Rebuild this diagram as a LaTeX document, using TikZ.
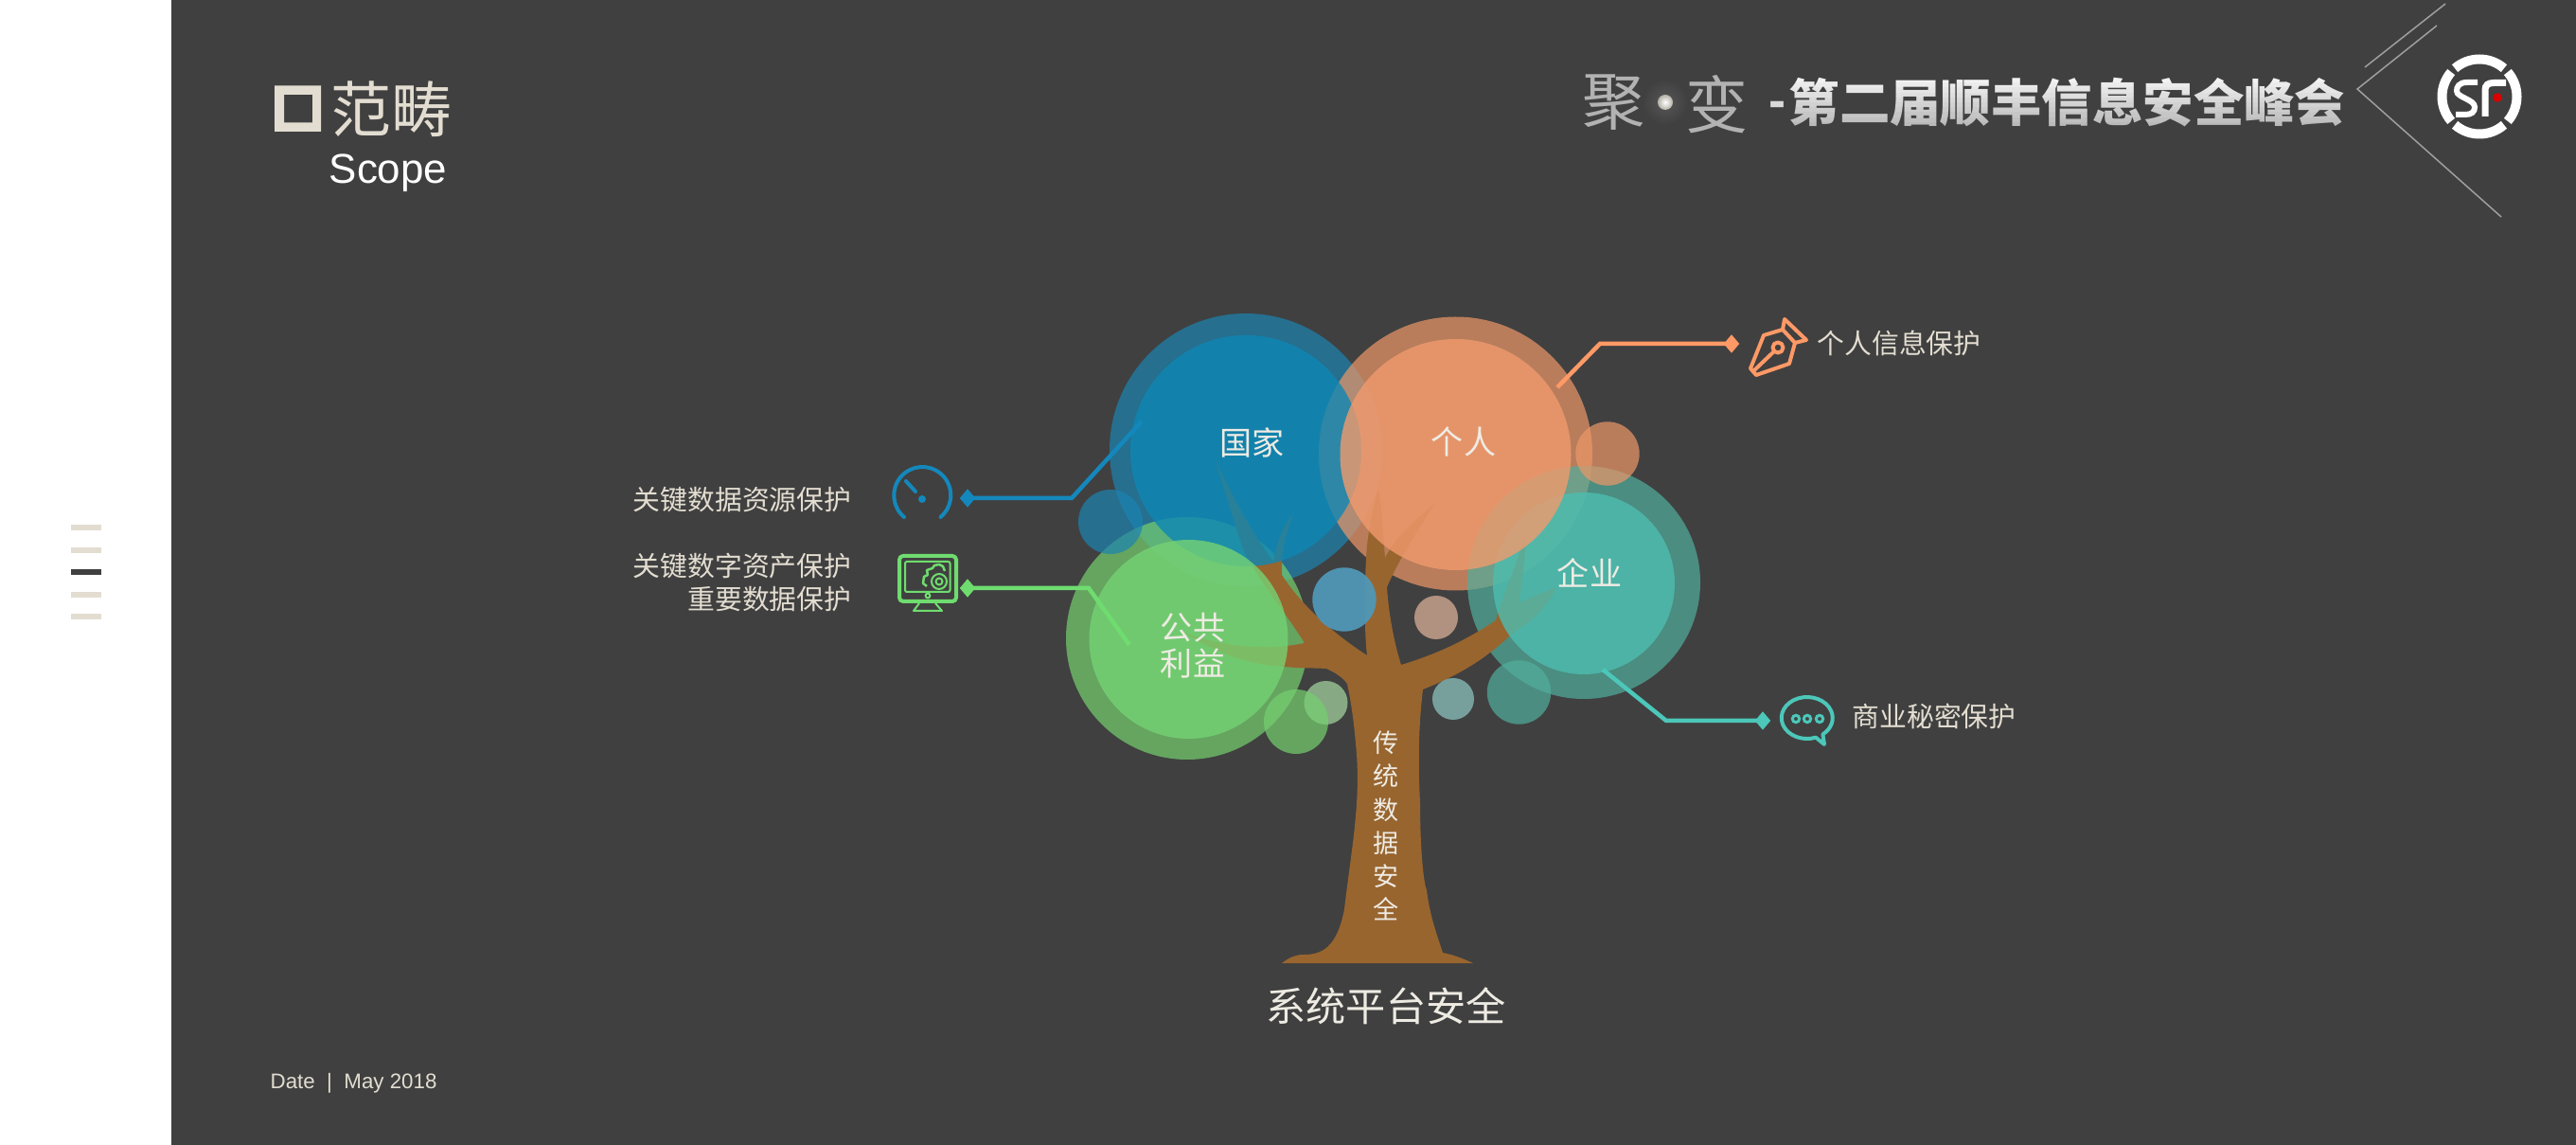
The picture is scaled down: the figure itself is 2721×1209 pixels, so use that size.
\documentclass[tikz,border=0pt]{standalone}
\usepackage{fontspec}
\usepackage{tikz}
\usetikzlibrary{shapes.geometric,calc}
\newfontfamily\cjk{Noto Sans CJK SC}
\newfontfamily\latinsans{Liberation Sans}
\definecolor{slide}{HTML}{404040}
\definecolor{sand}{HTML}{E3DDD1}
\definecolor{bark}{HTML}{98652F}
\definecolor{lineblue}{HTML}{1488BC}
\definecolor{lineorange}{HTML}{FF9966}
\definecolor{linegreen}{HTML}{6FDC6F}
\definecolor{lineteal}{HTML}{4CC7B9}
\definecolor{ringblue}{RGB}{27,131,177}
\definecolor{ringorange}{RGB}{237,151,104}
\definecolor{ringgreen}{RGB}{117,208,111}
\definecolor{ringteal}{RGB}{81,174,156}
\definecolor{coreblue}{RGB}{14,135,180}
\definecolor{coreorange}{RGB}{241,154,109}
\definecolor{coregreen}{RGB}{117,210,115}
\definecolor{coreteal}{RGB}{77,189,176}
\definecolor{dotblue}{HTML}{5097B6}
\definecolor{dottan}{HTML}{B89684}
\definecolor{dotgreen}{HTML}{8BB088}
\definecolor{dotteal}{HTML}{7AA6A3}
\tikzset{
    ring/.style={fill=#1,fill opacity=.7},
    core/.style={fill=#1,fill opacity=.8},
    dot/.style={fill=#1,fill opacity=.95},
    leaflabel/.style={text=sand!60!white,font=\cjk\fontsize{9.7}{10.8}\selectfont,align=center,inner sep=0},
    sidelabel/.style={text=sand,font=\cjk\fontsize{8.2}{9.7}\selectfont,inner sep=0},
    lead/.style={draw=#1,line width=.45mm},
    leadtip/.style={diamond,fill=#1,inner sep=0,minimum width=1.7mm,minimum height=2mm},
    icon/.style={draw=#1,line width=.4mm,line join=round,line cap=round}
}
\newcommand{\disc}[4]{
    \fill[#1=#2] (#3) circle (#4);
}
\begin{document}
\begin{tikzpicture}[x=.1mm,y=-.1mm]
        \useasboundingbox (0,0) rectangle (2721,1209);
        \fill[white] (0,0) rectangle (181,1209);
        \fill[slide] (181,0) rectangle (2721,1209);
        % side menu
        \foreach \bary/\barcol in {557/sand,581/sand,604/slide,628/sand,651.5/sand}
            \fill[\barcol] (75,\bary-3) rectangle (107,\bary+3);
        % heading
        \fill[sand,even odd rule] (290,90.5) rectangle (339,139) (300,100) rectangle (330,129.5);
        \node[text=sand,inner sep=0,font=\cjk\fontsize{18.2}{20}\selectfont] (headcn) at (413,115) {范畴};
        \node[text=white,inner sep=0,anchor=base west,font=\latinsans\fontsize{12.5}{14}\selectfont] (headen) at (347,193.5) {Scope};
        \node[text=sand,inner sep=0,anchor=base west,font=\latinsans\fontsize{6.35}{8}\selectfont] (datenote) at (285,1149) {Date~~|~~May 2018};
        % banner
        \shade[inner color=white!12!slide,outer color=slide] (1759,108) circle (24);
        \shade[inner color=white,outer color=sand!80!black] (1759,108) circle (8);
        \node[text=black!30,inner sep=0,font=\cjk\fontsize{18.8}{20}\selectfont] (bannerju) at (1705,108) {聚};
        \node[text=black!30,inner sep=0,font=\cjk\fontsize{18.8}{20}\selectfont] (bannerbian) at (1814,110) {变};
        \node[text=black!5,inner sep=0,anchor=west,font=\cjk\bfseries\fontsize{15.2}{17}\selectfont] (bannertext) at (1889,108) {第二届顺丰信息安全峰会};
        \node[text=black!15,inner sep=0,anchor=base,font=\latinsans\bfseries\fontsize{15.4}{17}\selectfont] (bannerdash) at (1877,125) {-};
        \foreach \stripe in {0,...,9}
            \fill[slide,opacity=\stripe*.035] (1889,82+\stripe*5.2) rectangle (2478,82+\stripe*5.2+5.2);
        \coordinate (chevtop) at (2574,27);
        \coordinate (chevtip) at (2490,94);
        \coordinate (chevend) at (2642,229);
        \coordinate (slashtop) at (2583,4);
        \coordinate (slashend) at (2498,71);
        \draw[white!50!slide,line width=.15mm] (chevtop) -- (chevtip) -- (chevend);
        \draw[white!50!slide,line width=.15mm] (slashtop) -- (slashend);
        % logo
        \foreach \arcfrom/\arcto in {229/311,319/401,49/131,139/221}
            \draw[white,line width=1mm] ($(2619,102)+(\arcfrom:39.5)$) arc[start angle=\arcfrom,end angle=\arcto,radius=39.5];
        \draw[white,line width=.6mm] (2617,87) -- (2606,87) .. controls (2597,87) and (2595,92) .. (2595,96) .. controls (2595,103) and (2614,105) .. (2614,113) .. controls (2614,118) and (2611,121) .. (2604,121) -- (2594,121);
        \draw[white,line width=.7mm] (2625,123) -- (2625,95) .. controls (2625,90) and (2628,87.5) .. (2634,87.5) -- (2647,87.5);
        \fill[red!85!black] (2638,103) circle (4.8);
        % outer rings sit under the tree
        \disc{ring}{ringblue}{1316,475}{144}
        \disc{ring}{ringorange}{1537.5,479}{144.5}
        \disc{ring}{ringgreen}{1254,674}{128}
        \disc{ring}{ringteal}{1673,615}{123}
        \fill[bark] (1354,1017) .. controls (1362,1011) and (1368,1008) .. (1377,1008)
            .. controls (1395,1008) and (1412,1002) .. (1420,960)
            .. controls (1427,900) and (1437,850) .. (1433,797)
            .. controls (1431,770) and (1428,745) .. (1423,722)
            .. controls (1418,715) and (1410,710) .. (1401,706)
            .. controls (1385,705) and (1375,706) .. (1357,704)
            .. controls (1320,702) and (1285,690) .. (1251,668)
            .. controls (1290,682) and (1335,688) .. (1378,679)
            .. controls (1360,650) and (1335,620) .. (1316,586)
            .. controls (1305,560) and (1295,520) .. (1283,484)
            .. controls (1295,510) and (1320,560) .. (1345,593)
            .. controls (1348,575) and (1355,555) .. (1366,543)
            .. controls (1360,560) and (1355,575) .. (1354,593)
            -- (1354,607)
            .. controls (1375,640) and (1410,670) .. (1444,692)
            .. controls (1441,670) and (1441,610) .. (1444,576)
            .. controls (1447,550) and (1452,530) .. (1456,516)
            .. controls (1460,540) and (1461,565) .. (1463,589)
            .. controls (1475,565) and (1495,550) .. (1515,532)
            .. controls (1495,565) and (1478,590) .. (1465,620)
            .. controls (1467,650) and (1473,680) .. (1480,702)
            .. controls (1520,690) and (1550,675) .. (1580,655)
            .. controls (1590,620) and (1605,590) .. (1612,560)
            .. controls (1613,585) and (1607,610) .. (1605,636)
            -- (1644,620)
            .. controls (1630,650) and (1610,660) .. (1596,670)
            .. controls (1565,700) and (1535,715) .. (1503,728)
            .. controls (1498,770) and (1498,810) .. (1500,847)
            .. controls (1500,890) and (1503,930) .. (1507,940)
            .. controls (1510,965) and (1517,985) .. (1524,1006)
            .. controls (1535,1008) and (1545,1012) .. (1556,1017)
            -- cycle;
        \disc{core}{coreblue}{1316,476}{122}
        \disc{core}{coregreen}{1255.5,675}{105}
        \disc{core}{coreteal}{1673,616}{96}
        \disc{core}{coreorange}{1537.5,480}{122}
        % small leaves
        \disc{ring}{ringblue}{1173,551}{34}
        \disc{ring}{ringorange}{1698,479}{33.7}
        \disc{dot}{dotblue}{1420,633}{33.7}
        \disc{dot}{dottan}{1517,652}{23}
        \disc{dot}{dotgreen}{1400.5,742}{23}
        \disc{ring}{ringgreen}{1369,762}{34}
        \disc{dot}{dotteal}{1535,738}{22}
        \disc{ring}{ringteal}{1604.5,731}{33.7}
        % texts on the tree
        \node[leaflabel] (stateleaf) at (1322.5,467) {国家};
        \node[leaflabel] (personleaf) at (1546,466.5) {个人};
        \node[leaflabel] (firmleaf) at (1679,605) {企业};
        \node[leaflabel] (publicleaf) at (1260,682) {公共\\利益};
        \node[text=sand!60!white,inner sep=0,align=center,font=\cjk\fontsize{7.7}{10}\selectfont] (trunktext) at (1464.5,872) {传\\统\\数\\据\\安\\全};
        \node[text=sand!60!white,inner sep=0,font=\cjk\fontsize{12}{14}\selectfont] (roottext) at (1464,1062) {系统平台安全};
        \node[sidelabel,anchor=east] (keyres) at (900,528) {关键数据资源保护};
        \node[sidelabel,anchor=east,align=right] (keyasset) at (900,615) {关键数字资产保护\\重要数据保护};
        \node[sidelabel,anchor=west] (personal) at (1919,362) {个人信息保护};
        \node[sidelabel,anchor=west] (secret) at (1956,756) {商业秘密保护};
        % leads
        \coordinate (blueroot) at (1206,445);
        \coordinate (blueknee) at (1132,526);
        \node[leadtip=lineblue] (bluetip) at (1022,526) {};
        \draw[lead=lineblue] (blueroot) -- (blueknee) -- (bluetip.center);
        \coordinate (greenroot) at (1193,681);
        \coordinate (greenknee) at (1150,621);
        \node[leadtip=linegreen] (greentip) at (1022,621) {};
        \draw[lead=linegreen] (greenroot) -- (greenknee) -- (greentip.center);
        \coordinate (orangeroot) at (1645,409);
        \coordinate (orangeknee) at (1690,363);
        \node[leadtip=lineorange] (orangetip) at (1829,363) {};
        \draw[lead=lineorange] (orangeroot) -- (orangeknee) -- (orangetip.center);
        \coordinate (tealroot) at (1693,707);
        \coordinate (tealknee) at (1760,761);
        \node[leadtip=lineteal] (tealtip) at (1862,761) {};
        \draw[lead=lineteal] (tealroot) -- (tealknee) -- (tealtip.center);
        % gauge
        \draw[icon=lineblue] (955,546) arc[start angle=130,end angle=410,radius=30];
        \draw[icon=lineblue] (957,508) -- (967,519);
        \fill[lineblue] (974,527) circle (4);
        % monitor
        \draw[icon=linegreen,rounded corners=.4mm] (950,587) rectangle (1010,635);
        \draw[linegreen,line width=.2mm,rounded corners=.2mm] (956,593) rectangle (1003.5,625);
        \draw[linegreen,line width=.2mm] (980,629) circle (2.4);
        \draw[linegreen,line width=.2mm,line join=round] (971,637) -- (965,645) -- (995,645) -- (988,637);
        \draw[linegreen,line width=.25mm,line join=round] (979,619) -- (975,616) -- (976,609) -- (980,607) -- (979,602) -- (985,600) -- (987,597) -- (992,596) -- (996,598) -- (998,603);
        \draw[linegreen,line width=.2mm] (992,614) circle (8);
        \draw[linegreen,line width=.2mm] (992,614) circle (3.5);
        % nib
        \draw[icon=lineorange] (1855,396) -- (1849,389) -- (1863,354) -- (1883,348) -- (1885,337) -- (1908,359) -- (1896,362) -- (1890,384) -- cycle;
        \draw[icon=lineorange] (1883,348) -- (1896,362);
        \draw[icon=lineorange] (1878,367) circle (5.5);
        \draw[icon=lineorange] (1874,371) -- (1853,391);
        % speech
        \draw[icon=lineteal] (1918,778.7) arc[start angle=70,end angle=412,x radius=27,y radius=22] -- (1927,786) -- cycle;
        \foreach \talkx in {1897,1909,1922}
            \draw[lineteal,line width=.3mm] (\talkx,759) circle (3.7);
    \end{tikzpicture}
\end{document}
